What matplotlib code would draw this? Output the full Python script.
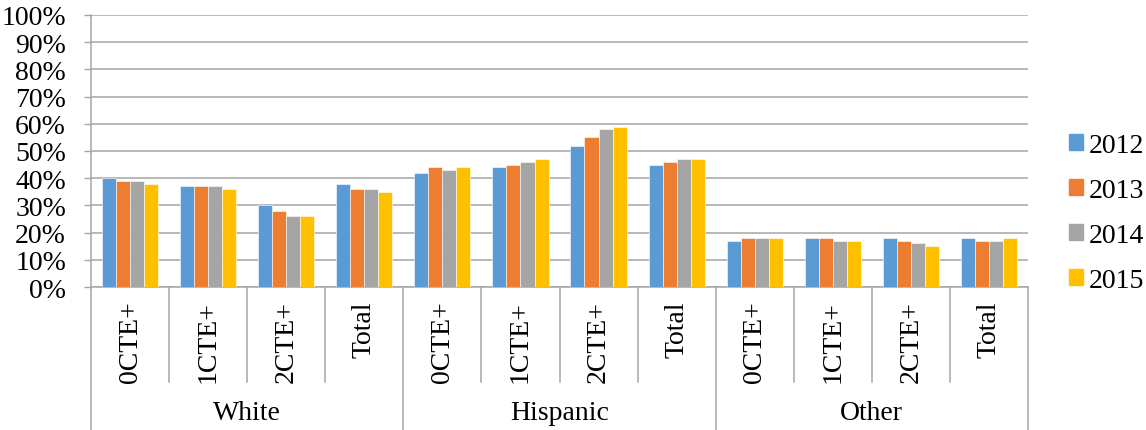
import numpy as np
import matplotlib.pyplot as plt
from matplotlib.patches import Patch

plt.rcParams['font.family'] = ['Liberation Serif', 'DejaVu Serif']

groups = ['White', 'Hispanic', 'Other']
subcats = ['0CTE+', '1CTE+', '2CTE+', 'Total']
years = ['2012', '2013', '2014', '2015']
colors = ['#5B9BD5', '#ED7D31', '#A5A5A5', '#FFC000']

# categories in order (group x subcat), one list per year
v2012 = [40, 37, 30, 38, 42, 44, 52, 45, 17, 18, 18, 18]
v2013 = [39, 37, 28, 36, 44, 45, 55, 46, 18, 18, 17, 17]
v2014 = [39, 37, 26, 36, 43, 46, 58, 47, 18, 17, 16, 17]
v2015 = [38, 36, 26, 35, 44, 47, 59, 47, 18, 17, 15, 18]
series = [v2012, v2013, v2014, v2015]

W, H = 1146, 431
fs = 20
fig = plt.figure(figsize=(W / 100, H / 100), dpi=100)
x0, x1, ytop, ybot = 91, 1028, 16, 288
ax = fig.add_axes([x0 / W, (H - ybot) / H, (x1 - x0) / W, (ybot - ytop) / H])

n = len(v2012)
x = np.arange(n)
bw = 0.18
for i, (vals, c) in enumerate(zip(series, colors)):
    ax.bar(x + (i - 1.5) * bw, np.array(vals) / 100, bw, color=c,
           edgecolor='white', linewidth=0.4, zorder=3, label=years[i])

ax.set_xlim(-0.5, n - 0.5)
ax.set_ylim(0, 1)
ticks = np.arange(0, 1.01, 0.1)
ax.set_yticks(ticks)
ax.set_yticklabels([f'{int(round(t * 100))}%' for t in ticks], fontsize=fs)
ax.yaxis.grid(True, color='#A6A6A6', linewidth=1.1, zorder=0)
ax.set_xticks([])
ax.tick_params(axis='y', length=5, color='#A6A6A6', width=1, pad=13)
for s in ['top', 'right']:
    ax.spines[s].set_visible(False)
for s in ['left', 'bottom']:
    ax.spines[s].set_color('#A6A6A6')
    ax.spines[s].set_linewidth(1.1)

# multi-level category axis
tr = ax.get_xaxis_transform()
h = ybot - ytop
y_cat = -(383 - ybot) / h
y_grp = -(H - ybot) / h
for k in range(n + 1):
    b = k - 0.5
    bottom = y_grp if k % 4 == 0 else y_cat
    ax.plot([b, b], [0, bottom], transform=tr, color='#A6A6A6', lw=1.1,
            clip_on=False)
for k in range(n):
    ax.text(k, -(301 - ybot) / h, subcats[k % 4], transform=tr, rotation=90,
            ha='center', va='top', fontsize=fs)
for g, name in enumerate(groups):
    ax.text(g * 4 + 1.5, -(414 - ybot) / h, name, transform=tr,
            ha='center', va='center', fontsize=fs)

handles = [Patch(color=c, label=y) for c, y in zip(colors, years)]
fig.legend(handles=handles, loc='center left', bbox_to_anchor=(1069 / W, 1 - 214 / H),
           frameon=False, fontsize=fs, handlelength=0.5, handleheight=0.5,
           labelspacing=0.72, handletextpad=0.2, borderpad=0, borderaxespad=0)

fig.savefig('out.png', dpi=100)
